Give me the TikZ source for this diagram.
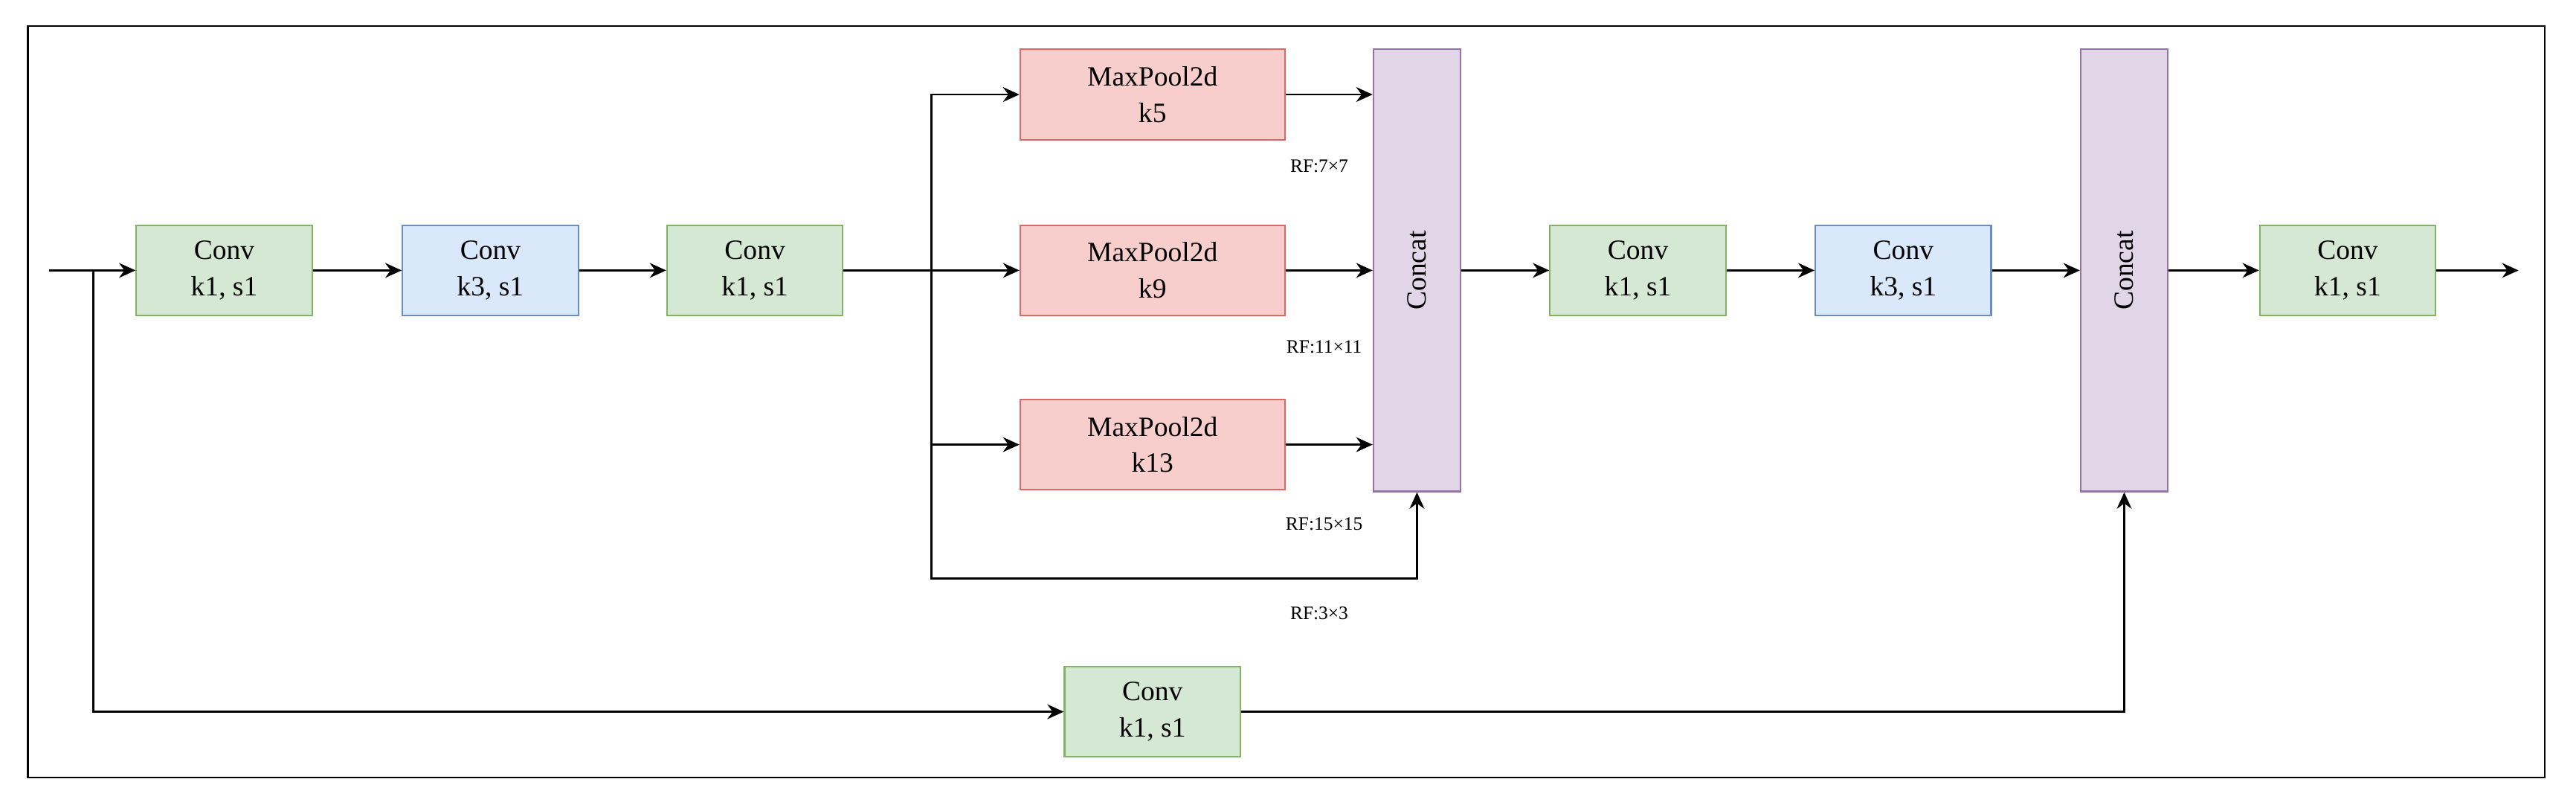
\documentclass[tikz,border=0pt]{standalone}
\usepackage{fontspec}
\setmainfont{Liberation Serif}
\usetikzlibrary{arrows.meta}
\definecolor{gF}{HTML}{D5E8D4}\definecolor{gD}{HTML}{82B366}
\definecolor{bF}{HTML}{DAE8FC}\definecolor{bD}{HTML}{6C8EBF}
\definecolor{rF}{HTML}{F8CECC}\definecolor{rD}{HTML}{E06666}
\definecolor{pF}{HTML}{E1D5E7}\definecolor{pD}{HTML}{9673A6}
\begin{document}
\begin{tikzpicture}[x=1pt,y=-1pt,
 box/.style={draw,line width=1pt,minimum width=107pt,minimum height=55pt,inner sep=0pt,align=center,font=\fontsize{17}{22}\selectfont},
 gc/.style={box,fill=gF,draw=gD},
 bc/.style={box,fill=bF,draw=bD},
 mp/.style={box,fill=rF,draw=rD,minimum width=161pt},
 cc/.style={draw=pD,fill=pF,line width=1pt,minimum width=53pt,minimum height=269pt,inner sep=0pt},
 ar/.style={-{Stealth[length=10pt,width=9pt]},line width=1.3pt},
 rf/.style={font=\fontsize{11.5}{13}\selectfont,inner sep=0pt}]
\useasboundingbox (0,0) rectangle (1568,493);
\draw[line width=1pt] (17,16) rectangle (1549,473);
\node[gc] (c1) at (136.5,164.5) {Conv\\k1, s1};
\node[bc] (c2) at (298.5,164.5) {Conv\\k3, s1};
\node[gc] (c3) at (459.5,164.5) {Conv\\k1, s1};
\node[mp] (m1) at (701.5,57.5) {MaxPool2d\\k5};
\node[mp] (m2) at (701.5,164.5) {MaxPool2d\\k9};
\node[mp] (m3) at (701.5,270.5) {MaxPool2d\\k13};
\node[cc] (k1) at (862.5,164.5) {};
\node[rotate=90,font=\fontsize{17}{20}\selectfont] at (k1.center) {Concat};
\node[gc] (c4) at (997,164.5) {Conv\\k1, s1};
\node[bc] (c5) at (1158.5,164.5) {Conv\\k3, s1};
\node[cc] (k2) at (1293,164.5) {};
\node[rotate=90,font=\fontsize{17}{20}\selectfont] at (k2.center) {Concat};
\node[gc] (c6) at (1429,164.5) {Conv\\k1, s1};
\node[gc] (c7) at (701.5,433) {Conv\\k1, s1};
\coordinate (in) at (30,164.5);
\coordinate (out) at (1533,164.5);
\coordinate (b0) at (57,164.5);
\coordinate (s0) at (567,164.5);
\draw[ar] (in) -- (c1);
\draw[ar] (c1) -- (c2);
\draw[ar] (c2) -- (c3);
\draw[ar] (c3) -- (m2);
\draw[ar] (s0) |- (m1);
\draw[ar] (s0) |- (m3);
\draw[ar] (s0) -- (567,352) -| (k1.south);
\draw[ar] (m1.east) -- (m1.east -| k1.west);
\draw[ar] (m2.east) -- (m2.east -| k1.west);
\draw[ar] (m3.east) -- (m3.east -| k1.west);
\draw[ar] (k1) -- (c4);
\draw[ar] (c4) -- (c5);
\draw[ar] (c5) -- (k2);
\draw[ar] (k2) -- (c6);
\draw[ar] (c6) -- (out);
\draw[ar] (b0) |- (c7);
\draw[ar] (c7) -| (k2.south);
\node[rf] at (803,101) {RF:7×7};
\node[rf] at (806,211) {RF:11×11};
\node[rf] at (806,319) {RF:15×15};
\node[rf] at (803,373) {RF:3×3};
\end{tikzpicture}
\end{document}
